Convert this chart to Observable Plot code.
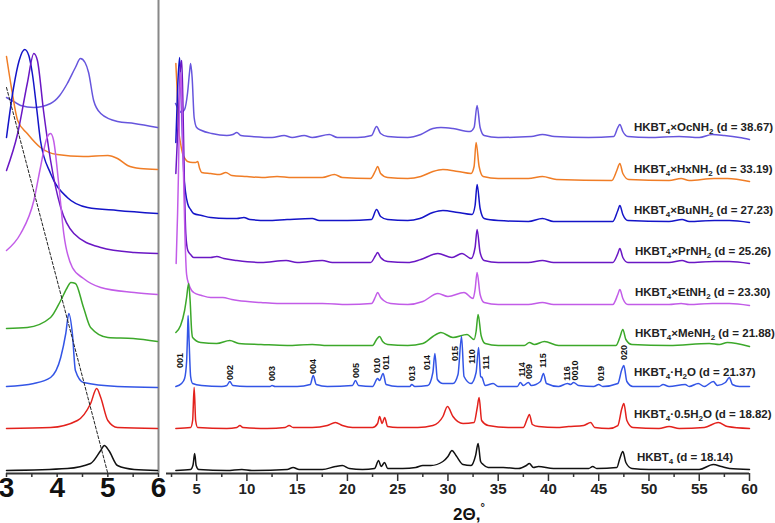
<!DOCTYPE html>
<html><head><meta charset="utf-8">
<script src="https://cdn.jsdelivr.net/npm/d3@7"></script>
<script src="https://cdn.jsdelivr.net/npm/@observablehq/plot@0.6"></script>
<style>
body{margin:0;background:#fff;}
#chart{position:relative;width:775px;height:523px;overflow:hidden;background:#fff;font-family:"Liberation Sans",Arial,sans-serif;}
#chart svg{position:absolute;left:0;top:0;}
</style></head><body><div id="chart"></div>
<script>
// ---- series meta ----
const seriesKeys = ["OcNH2","HxNH2","BuNH2","PrNH2","EtNH2","MeNH2","H2O","0.5H2O","HKBT4"];
const seriesLabels = [
  "HKBT_4×OcNH_2 (d = 38.67)",
  "HKBT_4×HxNH_2 (d = 33.19)",
  "HKBT_4×BuNH_2 (d = 27.23)",
  "HKBT_4×PrNH_2 (d = 25.26)",
  "HKBT_4×EtNH_2 (d = 23.30)",
  "HKBT_4×MeNH_2 (d = 21.88)",
  "HKBT_4·H_2O (d = 21.37)",
  "HKBT_4·0.5H_2O (d = 18.82)",
  "HKBT_4 (d = 18.14)"
];
const seriesOffsets = [336, 295, 253, 211, 169, 128, 87, 45, 3];
const labelX = [48.5, 48.5, 48.5, 48.6, 48.6, 48.6, 48.5, 48.5, 48.8];
const labelLift = [10, 9, 10, 11, 12, 12, 14, 14, 13];
const seriesColors = ["#6655dd","#f07d26","#1414c8","#6a17c4","#c25ce8","#3ca82a","#3355e6","#e3211c","#111111"];

// ---- right panel (2θ 2–60), [2θ, intensity above baseline] ----
const ocR = [[2.9,34],[3.2,28],[3.5,25],[3.8,28],[4.1,45],[4.3,66],[4.4,74],[4.55,60],[4.75,20],[5.0,10],[5.5,7],[6.5,4],[8.0,2],[8.6,3],[9.0,5],[9.4,2],[10.5,1],[12.5,0],[13.7,2],[14.5,0],[15.7,2],[16.5,0],[18.2,3],[19,0],[21,0],[22.4,2],[22.9,11],[23.3,4],[24,1],[26,0],[27.3,3],[28.5,9],[29.3,10],[30.5,9],[32.2,6],[32.6,10],[32.9,32],[33.2,10],[33.6,2],[35,0],[38.3,1],[39.4,3],[40.6,1],[44,0],[46.5,1],[46.9,10],[47.1,13],[47.4,6],[47.9,1],[50,0],[53,1],[55,0],[56.3,3],[57.5,2],[59,0],[60,-2]];
const hxR = [[2.93,115],[3.05,90],[3.2,51],[3.4,35],[3.6,25],[3.9,19],[4.1,17],[4.6,16],[4.9,16],[5.1,17],[5.3,10],[5.5,6],[6.4,5],[7.3,4],[7.9,6],[8.5,3],[10,2],[11.5,1],[13,2],[14.5,1],[16,1],[17.5,1],[18.7,4],[19.5,1],[22.3,0],[22.8,8],[23,12],[23.3,5],[24,1],[26,0],[27.3,2],[28.5,7],[29.5,9],[31,7],[32.3,5],[32.6,12],[32.8,36],[33.1,12],[33.5,2],[35,0],[38,0],[39.4,2],[40.8,-1],[46.3,-2],[46.8,8],[47.1,15],[47.4,5],[48,-1],[52,-2],[53.2,0],[54,-2],[56.5,0],[57.8,0],[60,-3]];
const buR = [[2.93,78],[3.1,130],[3.3,163],[3.45,130],[3.6,80],[3.72,47],[3.9,28],[4.1,17],[4.4,11],[4.7,7],[5.5,5],[6.4,3],[8,2],[9.0,2],[9.7,3],[10.3,1],[12,0],[14,1],[16.5,2],[17.2,0],[20,0],[22.4,1],[22.9,11],[23.3,4],[24,1],[26,0],[27.2,2],[28.5,8],[29.5,10],[31,8],[32.4,6],[32.7,15],[32.9,36],[33.2,12],[33.6,2],[35,0],[38,-1],[39.4,2],[40.5,-1],[46.4,-1],[46.9,10],[47.1,15],[47.4,6],[47.9,0],[52,-1],[53.3,1],[54,-1],[56.5,0],[58,0],[60,-2]];
const prR = [[2.93,89],[3.2,150],[3.4,195],[3.52,202],[3.65,150],[3.8,70],[3.92,29],[4.12,12],[4.4,8],[4.7,5],[5.5,5],[6.4,5],[7.0,6],[7.7,4],[9,2],[11.4,0],[13.9,2],[15,0],[17.5,2],[18.5,0],[22.3,0],[22.8,7],[23,10],[23.3,5],[24,1],[26,0],[27.3,3],[29,9],[30.4,5],[31.4,9],[32.3,4],[32.7,15],[32.9,33],[33.2,10],[33.6,2],[35,0],[38,0],[39.4,2],[40.5,0],[46.4,0],[46.9,9],[47.1,14],[47.4,5],[47.9,0],[52,0],[53.3,2],[54,0],[56.5,1],[58,1],[60,-1]];
const etR = [[2.96,41],[3.1,90],[3.19,131],[3.3,200],[3.4,232],[3.5,215],[3.6,165],[3.69,131],[3.85,64],[4.0,30],[4.2,21],[4.5,14],[4.7,12],[5.5,9],[6.4,7],[7.6,7],[8.5,5],[9.1,4],[11.4,2],[13,1],[15,1],[17.5,1],[20,0],[22.4,1],[22.8,8],[23,12],[23.3,7],[23.6,4],[24.3,1],[26,0],[27.5,3],[29,11],[30,8],[31.6,12],[32.5,6],[32.7,15],[32.9,32],[33.2,10],[33.6,2],[35,0],[38,0],[39.4,2],[40.5,0],[42,0],[46.4,0],[46.9,10],[47.1,15],[47.4,6],[47.9,0],[52,0],[53.2,1],[54,0],[56.3,1],[58,1],[60,-1]];
const meR = [[2.93,13],[3.4,20],[3.8,35],[4.0,48],[4.2,62],[4.35,45],[4.5,15],[4.6,8],[5.4,3],[7,2],[8.3,5],[9.2,2],[11.4,1],[14,0],[16.5,1],[18,0],[22.5,0],[22.9,6],[23.2,9],[23.5,4],[24,1],[26,0],[27.5,2],[28.5,9],[29.3,13],[30.5,8],[31.9,11],[32.6,6],[32.8,14],[33.0,31],[33.3,10],[33.7,2],[35,0],[37.6,0],[38.1,3],[38.6,1],[39.6,4],[41,0],[46.7,0],[47.1,8],[47.4,16],[47.7,6],[48.3,1],[52,0],[56,2],[57,1],[57.8,3],[60,-1]];
const h2oR = [[2.93,0],[3.5,3],[3.8,8],[4.0,25],[4.1,55],[4.15,71],[4.25,45],[4.4,10],[4.6,3],[5.5,1],[7.5,0],[8.0,1],[8.3,5],[8.6,1],[10,0],[12.3,0],[12.5,1],[12.8,0],[15,0],[16.3,2],[16.6,11],[16.9,2],[18,0],[20.5,1],[20.8,6],[21.1,1],[22.5,0],[23.0,8],[23.2,6],[23.55,13],[23.85,2],[25,0],[26.2,0],[26.4,2],[26.7,0],[28,1],[28.5,14],[28.7,33],[28.95,7],[29.5,3],[30.5,3],[31.0,12],[31.35,50],[31.6,10],[32.3,3],[32.8,14],[33.05,39],[33.25,10],[33.4,9],[33.7,1],[34.5,3],[35,0],[36.9,0],[37.2,4],[37.5,1],[38,4],[38.3,1],[39.2,5],[39.5,13],[39.8,3],[41,0],[41.9,3],[42.2,2],[42.5,4],[43,1],[44.5,0],[45,2],[45.4,0],[46.9,3],[47.3,17],[47.5,21],[47.8,5],[48.4,0],[51,0],[51.4,2],[52,0],[53.6,2],[54,0],[54.9,3],[55.5,0],[56.4,5],[56.8,1],[57.6,4],[58.0,9],[58.3,2],[59,0],[60,0]];
const halfR = [[2.93,0],[4.4,1],[4.6,8],[4.75,41],[4.9,8],[5.1,1],[8,0],[9.0,1],[9.3,3],[9.6,1],[12,0],[13.8,1],[14.2,3],[14.6,1],[16.5,1],[18.0,3],[18.8,6],[19.5,3],[20.5,1],[22.5,1],[23.0,5],[23.2,12],[23.45,5],[23.7,11],[24.0,2],[25,1],[27,1],[28.5,3],[29.5,12],[29.95,22],[30.5,12],[31.5,5],[32.6,6],[32.9,20],[33.1,31],[33.35,8],[34,3],[36,1],[37.5,1],[37.9,10],[38.1,14],[38.4,4],[39,2],[40.8,1],[42,2],[43.5,3],[44.2,6],[44.6,1],[46,0],[46.9,3],[47.3,20],[47.5,25],[47.8,8],[48.4,1],[51,0],[52,2],[53,0],[55.5,1],[56.9,6],[57.8,2],[60,0]];
const hkR = [[2.93,0],[4.4,1],[4.65,6],[4.8,17],[4.95,5],[5.2,1],[8,0],[9.5,1],[10.5,0],[14.0,1],[14.6,3],[15.2,1],[17.5,1],[18.8,4],[19.5,5],[20.2,2],[21.5,1],[22.7,2],[23.1,10],[23.35,4],[23.7,8],[24,2],[25.5,2],[26.8,3],[27.5,5],[28.3,5],[29.5,9],[30.0,14],[30.4,20],[30.8,15],[31.5,6],[32.3,5],[32.75,15],[33.0,27],[33.25,9],[33.5,6],[34,3],[35.5,3],[37,2],[37.8,5],[38.1,7],[38.5,3],[39,4],[40.5,2],[42,2],[44,2],[44.4,4],[44.8,2],[46.8,3],[47.1,12],[47.4,19],[47.7,8],[48.3,2],[50,1],[53,1],[55,1],[56.4,6],[57.2,4],[58,2],[60,1]];

// ---- left panel (2θ 3–6, zoomed) ----
const ocL = [[3.0,40],[3.14,36],[3.28,32],[3.54,30],[3.87,34],[4.05,42],[4.2,54],[4.36,70],[4.46,79],[4.55,75],[4.62,65],[4.72,37],[4.86,24],[5.19,16],[5.52,14],[5.98,10]];
const hxL = [[3.0,122],[3.1,90],[3.22,58],[3.41,45],[3.67,31],[4.0,24],[4.52,22],[5.0,23],[5.19,20],[5.39,13],[5.64,10],[5.98,9]];
const buL = [[3.0,83],[3.14,133],[3.25,160],[3.36,171],[3.44,165],[3.51,147],[3.6,110],[3.67,80],[3.87,47],[4.2,23],[4.6,13],[5.19,10],[5.98,7]];
const prL = [[3.0,92],[3.22,129],[3.41,179],[3.54,209],[3.61,202],[3.73,152],[3.87,102],[4.07,55],[4.33,29],[4.86,15],[5.52,10],[5.98,9]];
const etL = [[3.0,54],[3.28,71],[3.54,104],[3.67,137],[3.8,167],[3.87,171],[3.93,164],[4.03,121],[4.13,71],[4.3,37],[4.52,26],[4.86,17],[5.52,12],[5.98,10]];
const meL = [[3.0,17],[3.41,18],[3.87,28],[4.07,45],[4.2,58],[4.27,63],[4.36,62],[4.52,38],[4.66,18],[5.0,8],[5.5,7],[5.98,4]];
const h2oL = [[3.0,0],[3.54,3],[3.87,9],[4.07,29],[4.17,53],[4.23,73],[4.3,53],[4.36,16],[4.52,4],[5.19,0],[5.98,-1]];
const halfL = [[3.0,0],[3.87,1],[4.4,8],[4.66,25],[4.78,40],[4.86,31],[5.0,8],[5.19,1],[5.98,0]];
const hkL = [[3.0,0],[4.2,2],[4.66,7],[4.86,20],[4.93,25],[5.02,20],[5.19,5],[5.52,1],[5.98,0]];

// dashed guide line in the zoomed panel
const guideX = [3.0, 5.0];
const guideY = [386, 0];

// HKBT4·H2O reflection indices
const hklLabels = ["001","002","003","004","005","010","011","013","014","015","110","111","114","009","115","116","0010","019","020"];
const hklX = [3.35,8.33,12.55,16.63,20.87,22.93,23.82,26.41,27.97,30.69,32.45,33.77,37.35,38.05,39.44,41.9,42.63,45.2,47.5];
const hklLift = [26,14,13,20,16,21,24,13,24,33,30,24,17,15,26,13,16,13,34];

// axis ticks
const rightMajor = [5,10,15,20,25,30,35,40,45,50,55,60];
const rightMinor = [2.5,7.5,12.5,17.5,22.5,27.5,32.5,37.5,42.5,47.5,52.5,57.5];
const leftTicks = [3,3.5,4,4.5,5,5.5,6];
const leftMajor = [3,4,5,6];

const rightSets = [ocR,hxR,buR,prR,etR,meR,h2oR,halfR,hkR];
const leftSets = [ocL,hxL,buL,prL,etL,meL,h2oL,halfL,hkL];

function rowsOf(sets){
  return sets.flatMap((pts,i)=>pts.map(([x,h])=>({series:seriesKeys[i], x, y:h+seriesOffsets[i]})));
}
const rightRows = rowsOf(rightSets);
const leftRows = rowsOf(leftSets);
const labelRows = seriesLabels.map((t,i)=>({label:t, x:labelX[i], y:seriesOffsets[i]+labelLift[i]}));
const hklRows = hklLabels.map((t,i)=>({label:t, x:hklX[i], y:seriesOffsets[6]+hklLift[i]}));
const guideRows = guideX.map((x,i)=>({x, y:guideY[i]}));

const font = "Liberation Sans, Arial, sans-serif";
const colorScale = {domain: seriesKeys, range: seriesColors};
const yScale = {domain:[0,473], axis:null};

const right = Plot.plot({
  width: 775, height: 523, marginLeft: 166, marginRight: 26, marginTop: 0, marginBottom: 50,
  style: {background:"transparent", overflow:"visible", fontFamily: font},
  x: {domain:[2,60], label:null},
  y: yScale,
  color: colorScale,
  marks: [
    Plot.line(rightRows, {x:"x", y:"y", z:"series", stroke:"series", strokeWidth:1.5, curve:"monotone-x"}),
    Plot.text(labelRows, {x:"x", y:"y", text:"label", textAnchor:"start", fontSize:11.5, fontWeight:"bold", fill:"#222"}),
    Plot.text(hklRows, {x:"x", y:"y", text:"label", rotate:-90, fontSize:9, fontWeight:"bold", fill:"#111"}),
    Plot.ruleY([0], {stroke:"#333", strokeWidth:2}),
    Plot.axisX({ticks: rightMajor, tickSize:8, tickPadding:2, tickFormat: d=>String(d), fontSize:15, fontWeight:"bold", stroke:"#333", strokeWidth:1.5, fill:"#222", label:null}),
    Plot.axisX({ticks: rightMinor, tickSize:4, tickFormat: ()=>"", stroke:"#333", strokeWidth:1.5, label:null})
  ]
});

const left = Plot.plot({
  width: 180, height: 523, marginLeft: 6, marginRight: 22, marginTop: 0, marginBottom: 50,
  style: {background:"transparent", overflow:"visible", fontFamily: font},
  x: {domain:[3,6], label:null},
  y: yScale,
  color: colorScale,
  marks: [
    Plot.ruleX([6], {stroke:"#888", strokeWidth:2}),
    Plot.line(leftRows, {x:"x", y:"y", z:"series", stroke:"series", strokeWidth:1.5, curve:"monotone-x"}),
    Plot.line(guideRows, {x:"x", y:"y", stroke:"#222", strokeWidth:1, strokeDasharray:"3,2"}),
    Plot.ruleY([0], {stroke:"#333", strokeWidth:2}),
    Plot.axisX({ticks: leftTicks, tickSize:4, tickFormat: ()=>"", stroke:"#333", strokeWidth:1.5, label:null}),
    Plot.axisX({ticks: leftMajor, tickSize:0, tickPadding:4, tickFormat: d=>String(d), fontSize:28, fontWeight:"bold", fill:"#111", label:null})
  ]
});

const chart = document.getElementById("chart");
chart.appendChild(right);
chart.appendChild(left);

// subscripts "_n" -> real subscript tspans
const NS = "http://www.w3.org/2000/svg";
d3.select(right).selectAll("text").each(function(){
  const t = this.textContent;
  if (!t.includes("_")) return;
  const parts = t.split(/_(\d)/);
  while (this.firstChild) this.removeChild(this.firstChild);
  let shifted = false;
  parts.forEach((p,i)=>{
    if (!p) return;
    const ts = document.createElementNS(NS,"tspan");
    if (i % 2 === 1) { ts.setAttribute("font-size","8"); ts.setAttribute("dy","3"); shifted = true; }
    else if (shifted) { ts.setAttribute("dy","-3"); shifted = false; }
    ts.textContent = p;
    this.appendChild(ts);
  });
});

// x-axis title
const xt = d3.select(right).append("text")
  .attr("x", 469).attr("y", 520).attr("text-anchor","middle")
  .attr("font-size", 17).attr("font-weight","bold").attr("fill","#111")
  .attr("font-family", font);
xt.append("tspan").text("2Θ,");
xt.append("tspan").attr("font-size", 11).attr("dy", -9).text("°");
</script></body></html>
